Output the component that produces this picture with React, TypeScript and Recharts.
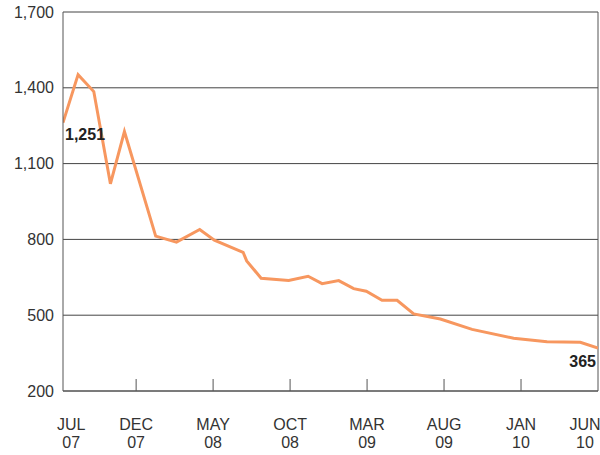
import { LineChart, Line, XAxis, YAxis, CartesianGrid, ReferenceLine } from 'recharts'

// months counted from Jul 2007 (0 = JUL 07)
const months = [
  0.25, 1.23, 2.25, 3.33, 4.24, 6.27, 7.62, 9.13, 10.08, 11.95, 12.18, 13.12,
  14.91, 16.17, 17.08, 18.16, 19.13, 19.95, 20.97, 21.95, 23.03, 24.76, 26.82,
  29.52, 31.69, 33.85, 35,
]
const counts = [
  1262, 1452, 1385, 1020, 1227, 813, 789, 839, 797, 749, 715, 646,
  637, 654, 625, 637, 605, 595, 559, 559, 505, 485, 444,
  409, 395, 393, 370,
]

const monthTicks = [0, 5, 10, 15, 20, 25, 30, 35]
const tickMonths = ['JUL', 'DEC', 'MAY', 'OCT', 'MAR', 'AUG', 'JAN', 'JUN']
const tickYears = ['07', '07', '08', '08', '09', '09', '10', '10']
const valueTicks = [200, 500, 800, 1100, 1400, 1700]
const callouts = ['1,251', '365']

const data = months.map((m, i) => ({ month: m, value: counts[i] }))

const FONT = '"Liberation Sans", Arial, sans-serif'

function MonthTick(props: any) {
  const { x, y, payload } = props
  const i = monthTicks.indexOf(payload.value)
  const last = monthTicks.length - 1
  const shift = i === 0 ? 12 : i === last ? -13 : 0
  return (
    <g>
      {i > 0 && i < last && (
        <line x1={x} x2={x} y1={y} y2={y - 12} stroke="#555" strokeWidth={1} />
      )}
      <text x={x + shift} y={y + 39} textAnchor="middle" fill="#333" fontSize={16} fontFamily={FONT}>
        {tickMonths[i]}
      </text>
      <text x={x + shift} y={y + 57} textAnchor="middle" fill="#333" fontSize={16} fontFamily={FONT}>
        {tickYears[i]}
      </text>
    </g>
  )
}

function EndLabel(props: any) {
  const { x, y, index } = props
  if (index === 0) {
    return (
      <text x={x + 2} y={y + 17} textAnchor="start" fill="#222" fontSize={16} fontWeight="bold" fontFamily={FONT}>
        {callouts[0]}
      </text>
    )
  }
  if (index === data.length - 1) {
    return (
      <text x={x - 2} y={y + 19} textAnchor="end" fill="#222" fontSize={16} fontWeight="bold" fontFamily={FONT}>
        {callouts[1]}
      </text>
    )
  }
  return null
}

export default function App() {
  return (
    <div style={{ position: 'absolute', left: 0, top: 0, width: 600, height: 455, background: '#fff', fontFamily: FONT }}>
      <LineChart width={600} height={455} data={data} margin={{ top: 12, right: 2, bottom: 0, left: 0 }}>
        <CartesianGrid vertical={false} stroke="#444" strokeWidth={1} />
        <XAxis
          dataKey="month"
          type="number"
          domain={[0.25, 35]}
          allowDataOverflow
          ticks={monthTicks}
          interval={0}
          height={64}
          tickSize={0}
          tickMargin={0}
          tickLine={false}
          axisLine={{ stroke: '#555' }}
          tick={<MonthTick />}
        />
        <YAxis
          type="number"
          domain={[200, 1700]}
          ticks={valueTicks}
          interval={0}
          width={63}
          tickSize={0}
          tickMargin={9}
          tickLine={false}
          axisLine={{ stroke: '#555' }}
          tickFormatter={(v: number) => v.toLocaleString('en-US')}
          tick={{ fill: '#333', fontSize: 16, fontFamily: FONT }}
        />
        <ReferenceLine x={35} stroke="#555" strokeWidth={1} />
        <Line
          type="linear"
          dataKey="value"
          stroke="#F7975F"
          strokeWidth={3}
          dot={false}
          activeDot={false}
          isAnimationActive={false}
          label={<EndLabel />}
        />
      </LineChart>
    </div>
  )
}
